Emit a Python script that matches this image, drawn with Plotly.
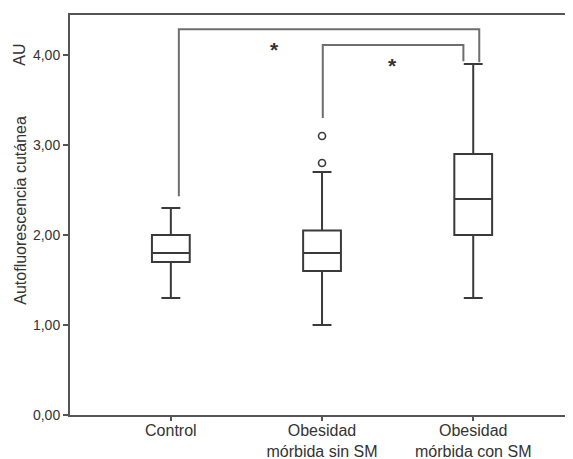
import plotly.graph_objects as go

# ---- data ----
categories = ["Control", "Obesidad<br>mórbida sin SM", "Obesidad<br>mórbida con SM"]
x_pos = [0, 1, 2]
lower_whisker = [1.30, 1.00, 1.30]
q1_vals = [1.70, 1.60, 2.00]
median_vals = [1.80, 1.80, 2.40]
q3_vals = [2.00, 2.05, 2.90]
upper_whisker = [2.30, 2.70, 3.90]
outlier_x = [1, 1]
outlier_y = [2.80, 3.10]
y_ticks = [0, 1, 2, 3, 4]

# significance brackets: (x path, y path)
bracket_outer_x = [0.053, 0.053, 2.04, 2.04]
bracket_outer_y = [2.43, 4.285, 4.285, 3.92]
bracket_inner_x = [1.005, 1.005, 1.935, 1.935]
bracket_inner_y = [3.30, 4.11, 4.11, 3.93]
star_x = [0.684, 1.468]
star_y = [4.06, 3.88]

FONT = "Liberation Sans, Arial, sans-serif"
BOXC = "#3a3a3a"
LINEC = "#6e6e6e"

fig = go.Figure()
for i in range(len(categories)):
    fig.add_trace(go.Box(
        x=[x_pos[i]], q1=[q1_vals[i]], median=[median_vals[i]], q3=[q3_vals[i]],
        lowerfence=[lower_whisker[i]], upperfence=[upper_whisker[i]],
        width=0.25, whiskerwidth=0.5, boxpoints=False,
        fillcolor="white", line=dict(color=BOXC, width=2),
        showlegend=False, hoverinfo="skip",
    ))

fig.add_trace(go.Scatter(
    x=outlier_x, y=outlier_y, mode="markers",
    marker=dict(symbol="circle-open", size=7, color=BOXC, line=dict(width=1.6, color=BOXC)),
    showlegend=False, hoverinfo="skip",
))

for bx, by in [(bracket_outer_x, bracket_outer_y), (bracket_inner_x, bracket_inner_y)]:
    fig.add_trace(go.Scatter(
        x=bx, y=by, mode="lines", line=dict(color=LINEC, width=2),
        showlegend=False, hoverinfo="skip",
    ))

for sx, sy in zip(star_x, star_y):
    fig.add_annotation(x=sx, y=sy, xref="x", yref="y", text="<b>*</b>", showarrow=False,
                       font=dict(family=FONT, size=21, color="#333333"),
                       xanchor="center", yanchor="middle")

fig.add_annotation(x=-0.1, y=0.5125, xref="paper", yref="paper",
                   text="Autofluorescencia cutánea", textangle=-90, showarrow=False,
                   font=dict(family=FONT, size=16, color="#333333"),
                   xanchor="center", yanchor="middle")
fig.add_annotation(x=-0.1, y=4.0, xref="paper", yref="y",
                   text="AU", textangle=-90, showarrow=False,
                   font=dict(family=FONT, size=16, color="#333333"),
                   xanchor="center", yanchor="middle")

fig.update_layout(
    width=565, height=451,
    margin=dict(l=62, r=0, t=7, b=44, autoexpand=False),
    paper_bgcolor="white", plot_bgcolor="white",
    separators=",.",
    showlegend=False,
    xaxis=dict(
        range=[-0.667, 2.66], tickmode="array", tickvals=x_pos, ticktext=categories,
        automargin=False, ticklabelstandoff=-4,
        showline=True, linecolor="#555555", linewidth=2, mirror=True,
        ticks="outside", ticklen=4, tickwidth=2, tickcolor="#555555",
        showgrid=False, zeroline=False,
        tickfont=dict(family=FONT, size=16, color="#333333"),
    ),
    yaxis=dict(
        range=[0, 4.444], tickmode="array", tickvals=y_ticks, tickformat=".2f",
        automargin=False,
        showline=True, linecolor="#555555", linewidth=2,
        ticks="outside", ticklen=5, tickwidth=1.5, tickcolor="#555555",
        showgrid=False, zeroline=False,
        tickfont=dict(family=FONT, size=14, color="#333333"),
    ),
)

fig.write_html("out.html")
